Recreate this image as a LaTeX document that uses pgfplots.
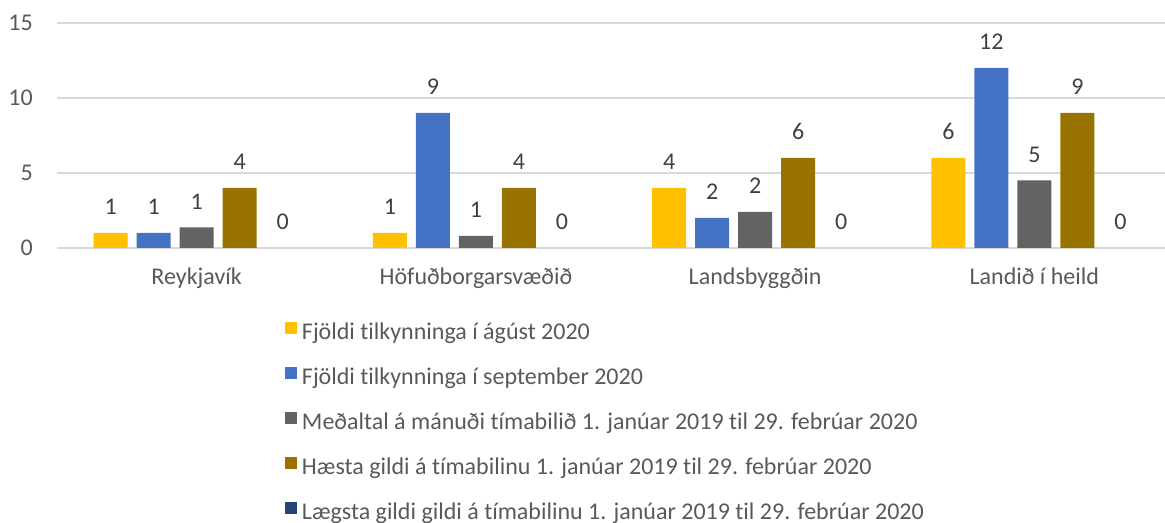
\documentclass[border=0pt]{standalone}
\usepackage{fontspec}
\setmainfont{Carlito}[Ligatures={NoCommon}]
\usepackage{pgfplots}
\usepackage{pgfplotstable}
\pgfplotsset{compat=1.18}
\definecolor{cAug}{HTML}{FFC000}
\definecolor{cSep}{HTML}{4472C4}
\definecolor{cAvg}{HTML}{636363}
\definecolor{cMax}{HTML}{997300}
\definecolor{cMin}{HTML}{264478}
\definecolor{gridc}{HTML}{D9D9D9}
\definecolor{tickc}{HTML}{595959}
\definecolor{labc}{HTML}{404040}

\pgfplotstableread{
x y lab
0 1 1
1 1 1
2 4 4
3 6 6
}\aug
\pgfplotstableread{
x y lab
0 1 1
1 9 9
2 2 2
3 12 12
}\sep
\pgfplotstableread{
x y lab
0 1.38 1
1 0.8 1
2 2.4 2
3 4.5 5
}\avg
\pgfplotstableread{
x y lab
0 4 4
1 4 4
2 6 6
3 9 9
}\maxv
\pgfplotstableread{
x y lab
0 0 0
1 0 0
2 0 0
3 0 0
}\minv

\begin{document}
\begin{tikzpicture}[font=\fontsize{18}{21}\selectfont]
\begin{axis}[
  at={(42.75pt,206.25pt)}, anchor=south west,
  scale only axis, width=837.75pt, height=168.75pt,
  xmin=-0.5, xmax=3.5, ymin=0, ymax=15,
  ybar=6.75pt, bar width=25.5pt,
  axis line style={draw=none}, major tick length=0pt,
  ymajorgrids, grid style={color=gridc, line width=1.5pt},
  xtick={0,1,2,3},
  xticklabels={Reykjavík, Höfuðborgarsvæðið, Landsbyggðin, Landið í heild},
  ytick={0,5,10,15},
  /pgf/number format/assume math mode=true,
  ticklabel style={text=tickc, font=\fontsize{18}{21}\selectfont},
  xticklabel style={inner sep=0pt, anchor=north, yshift=-15pt},
  yticklabel style={inner sep=0pt, anchor=east, xshift=-18pt},
  point meta=explicit symbolic,
  nodes near coords,
  nodes near coords style={text=labc, inner sep=0pt, anchor=south, yshift=13.5pt, font=\fontsize{18}{21}\selectfont},
  legend cell align=left,
  legend image code/.code={\fill[#1,draw=none] (0pt,0pt) rectangle (9pt,9pt);},
  legend style={draw=none, fill=none, at={(axis description cs:0.2,-0.318)}, anchor=north west,
    row sep=16.6pt, text=tickc, font=\fontsize{18}{21}\selectfont,
    nodes={inner sep=0pt, text height=12pt, text depth=4pt},
    /tikz/every odd column/.append style={column sep=4pt}},
]
\addplot[fill=cAug, draw=none] table[x=x,y=y,meta=lab] {\aug};
\addplot[fill=cSep, draw=none] table[x=x,y=y,meta=lab] {\sep};
\addplot[fill=cAvg, draw=none] table[x=x,y=y,meta=lab] {\avg};
\addplot[fill=cMax, draw=none] table[x=x,y=y,meta=lab] {\maxv};
\addplot[fill=cMin, fill opacity=0, text opacity=1, draw=none,
  legend image code/.code={\fill[fill=cMin, fill opacity=1, draw=none] (0pt,0pt) rectangle (9pt,9pt);}] table[x=x,y=y,meta=lab] {\minv};
\legend{Fjöldi tilkynninga í ágúst 2020,
  Fjöldi tilkynninga í september 2020,
  Meðaltal á mánuði tímabilið 1. janúar 2019 til 29. febrúar 2020,
  Hæsta gildi á tímabilinu 1. janúar 2019 til 29. febrúar 2020,
  Lægsta gildi gildi á tímabilinu 1. janúar 2019 til 29. febrúar 2020}
\end{axis}
\pgfresetboundingbox
\useasboundingbox (0pt,0pt) rectangle (873.75pt,392.25pt);
\end{tikzpicture}
\end{document}
